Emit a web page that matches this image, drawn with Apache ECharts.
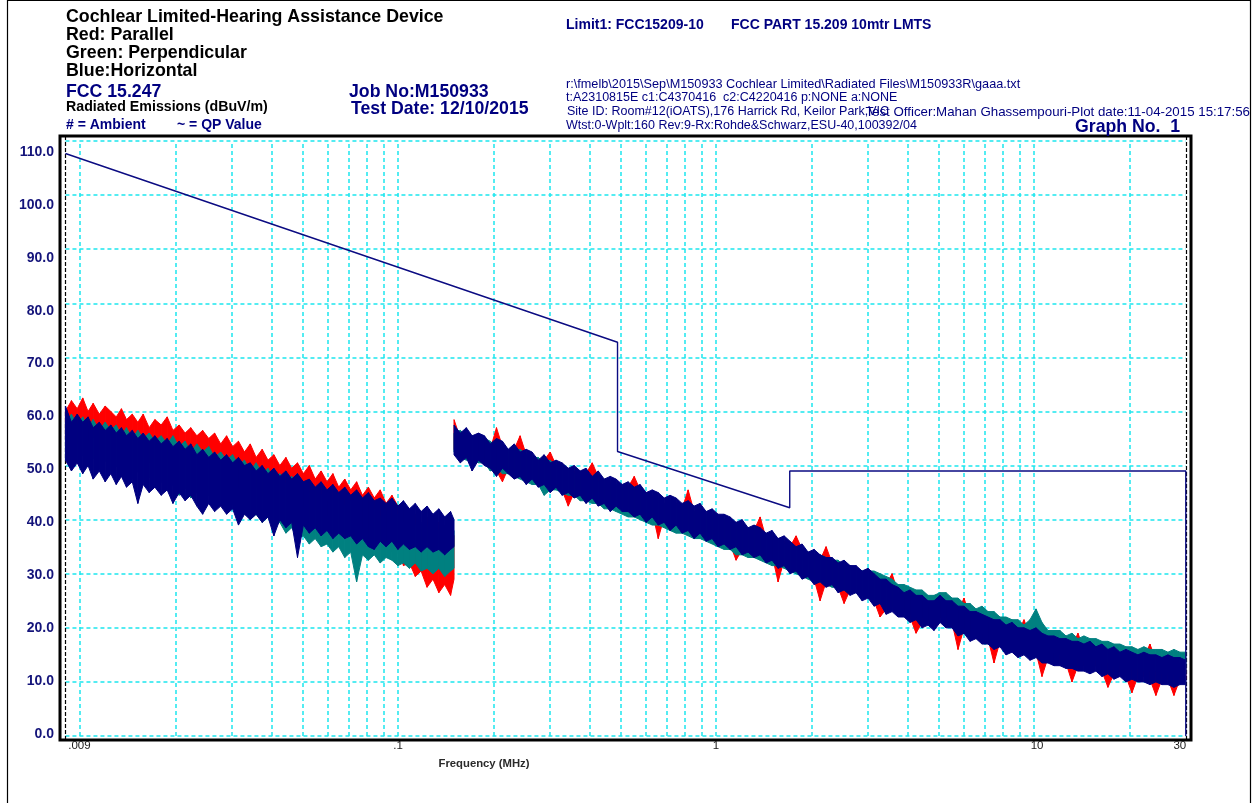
<!DOCTYPE html>
<html>
<head>
<meta charset="utf-8">
<script src="https://cdn.jsdelivr.net/npm/echarts@6/dist/echarts.min.js"></script>
<style>html,body{margin:0;padding:0;background:#fff}#chart{width:1255px;height:803px}</style>
</head>
<body>
<div id="chart"></div>
<script>
// ---------- DATA ----------
// Band 1: 9 kHz - 150 kHz (MHz)
const lowBandFreq = [0.009,0.0094,0.0098,0.0102,0.0106,0.011,0.0115,0.012,0.0125,0.013,
0.0135,0.014,0.0146,0.0152,0.0158,0.0165,0.0172,0.018,0.0188,0.0196,
0.0205,0.0214,0.0223,0.0233,0.0243,0.0254,0.0265,0.0277,0.0289,0.0302,
0.0315,0.0329,0.0343,0.0358,0.0374,0.039,0.0407,0.0425,0.0444,0.0463,
0.0483,0.0504,0.0526,0.0549,0.0573,0.0598,0.0624,0.0651,0.068,0.071,
0.0741,0.0773,0.0807,0.0842,0.0879,0.0917,0.0957,0.0999,0.104,0.1086,
0.1133,0.1182,0.1234,0.1288,0.1344,0.1402,0.1463,0.15];
// Red: Parallel (max / min per sweep bin), dBuV/m
const parallelLowMax = [60,62,60.5,62.5,60,61.5,59.5,61,60,59,60.5,58.5,59.5,58,59.5,57,58.5,57.5,59,56.5,57.5,56,57,55.5,56.5,55,56,54,55.5,53.5,54.5,52.5,54,51.5,53,51,52,50,51.5,49.5,50.5,48.5,50,47.5,49,47,48.5,46,47.5,45.5,47,44.5,46,44,45.5,43,44.5,42.5,43,40,41,39,40.5,38,39.5,37,38.5,37];
const parallelLowMin = [55,57,54,56,54.5,55.5,53,55,53.5,54.5,52.5,54,51.5,53,52,50.5,52,50,51.5,50.5,49,50.5,48.5,50,48.5,49.5,47,48.5,46.5,48,46,47,45,46,44.5,45.5,43.5,44.5,42.5,43.5,41.5,42.5,40.5,42,40,41,39,40.5,38.5,39.5,37.5,38.5,36.5,37.5,36,36.5,34,35,31.5,32,29.5,30.5,27.5,29,26.5,28,26,29];
// Green: Perpendicular
const perpLowMax = [58,59.5,57.5,59,57,58.5,56.5,58,56.5,57.5,55.5,57,55,56.5,55,56,54.5,55.5,54,55.5,53.5,54.5,52.5,54,52.5,53.5,51.5,52.5,51,52,50,51,49,50.5,48.5,49.5,47.5,48.5,46.5,48,46,47,45,46,44.5,45.5,43.5,44.5,42.5,43.5,42,43,41,42,40.5,41.5,40,41,39.5,40,39,39.5,38.5,39,38,39,37.5,38];
const perpLowMin = [51,53,50.5,52,50,51.5,49.5,51,49,50,48.5,49.5,47.5,49,47,48,46,47,45.5,46.5,44.5,46,44,45,43.5,44.5,42.5,43.5,42,43,41,42,40,41,39.5,40.5,38.5,39.5,37.5,38.5,36.5,37,35.5,36.5,35,35.5,34,35,33,34,28.5,33.5,32.5,33.5,32,33,32.5,31.5,32,31,32,30.5,31,30,31,29.5,30.5,31];
// Blue: Horizontal
const horizLowMax = [61,58,59.5,58,59,57,58,56.5,57.5,56,57,55.5,56.5,55,56,54.5,55.5,54,55,53.5,54.5,53,54,52,53,51.5,52.5,51,52,50.5,51.5,50,50.5,49,50,48.5,49.5,48,49,47.5,48.5,47,47.5,46,47,45.5,46.5,45,46,44.5,45.5,44,45,43.5,44,43,44,42.5,43.5,42,43,41.5,42.5,41,42,40.5,41.5,40];
const horizLowMin = [51,49,50.5,48.5,50,47.5,49,47,48.5,46.5,48,46,47,43,46.5,45,46,44.5,45.5,43,45,43.5,44.5,42.5,41,43,41.5,42.5,41,42,39,41,40,41,39.5,40.5,37,40,38.5,39.5,33,39,37.5,38.5,37,38,36.5,37.5,36.5,37,35.5,36.5,35,34.5,36,35,36,34.5,35.5,34.5,35,34,35,34,34.5,33.5,34.5,35];

// Band 2: 150 kHz - 30 MHz (MHz)
const highBandFreq = [0.15,0.157,0.164,0.171,0.179,0.187,0.195,0.204,0.213,0.222,
0.232,0.242,0.253,0.264,0.276,0.288,0.301,0.314,0.328,0.343,
0.358,0.374,0.39,0.408,0.426,0.445,0.465,0.485,0.507,0.529,
0.553,0.577,0.603,0.63,0.658,0.687,0.717,0.749,0.782,0.817,
0.853,0.891,0.931,0.972,1.015,1.06,1.107,1.156,1.208,1.261,
1.317,1.376,1.437,1.5,1.567,1.637,1.709,1.785,1.865,1.947,
2.034,2.124,2.218,2.317,2.42,2.527,2.639,2.756,2.879,3.006,
3.14,3.279,3.425,3.577,3.735,3.901,4.074,4.255,4.444,4.641,
4.847,5.062,5.287,5.521,5.766,6.022,6.289,6.568,6.86,7.164,
7.482,7.814,8.161,8.523,8.901,9.296,9.709,10.14,10.59,11.06,
11.55,12.06,12.6,13.16,13.74,14.35,14.99,15.65,16.35,17.07,
17.83,18.62,19.45,20.31,21.21,22.15,23.14,24.16,25.24,26.36,
27.53,28.75,30];
const parallelHighMax = [58.5,55,56,54.5,55,54.5,53,57,53.5,52,53,55.5,52,51.5,50,51,52.5,50,49.5,48.5,49,48,48.5,50.5,48,46.5,47,46.5,45.5,46,48,45.5,44,44.5,44,43,43.5,43,42,45.5,41.5,42,40.5,41,40,40,39.5,38.5,39,37.5,38,40.5,36.5,37,35.5,36,35,37,34.5,33,33.5,32.5,35,32,31,31.5,30.5,30.5,29.5,30,29,28,28,30,26.5,25.5,26,25,25,24,24,25,24,24,23,25.5,22,22,21.5,21,20.5,20.5,19.5,20,19,21.5,18.5,19,18,17.5,17.5,17,17,16.5,19,16,16.5,15.5,16,15,15.5,14.5,15,14.5,14,14.5,17,14,13.5,14,13.5,13.5,13];
const parallelHighMin = [53,51.5,52.5,50,52,51,50.5,49,47,49.5,48.5,49,47.5,48.5,47,47.5,46,47,45.5,42.5,45,45.5,44,45,43.5,44,42.5,43.5,42.5,42.5,41.5,42,40.5,41.5,36.5,40.5,39,40,38.5,39,37.5,38.5,37,37.5,36,36.5,35.5,32.5,34.5,35,34,34.5,33,33.5,28.5,32.5,31,31.5,30,30.5,29,25,28.5,29,27.5,24.5,27,27.5,26,26.5,25,22,23.5,24,23,23,22,19,21,21.5,20.5,22,21,21,16,20,18.5,19,18,18,13.5,17.5,16,16.5,15.5,16,15,15.5,11,14.5,14,14,13.5,10,13,13,12.5,13,12,9,11.5,12,11,8,11,11,10.5,7.5,10.5,10.5,7.5,10.5,10.5];
const perpHighMax = [56,56.5,55.5,55.5,54.5,55,54.5,53.5,54,53,52.5,53,52,51.5,51.5,50.5,51,50,49.5,49.5,48.5,49,48,48,47,47.5,46.5,46.5,46,45.5,45.5,44.5,45,44,44,43,43.5,42.5,42.5,42,41.5,41.5,41,40.5,40.5,40,39.5,39.5,38.5,38.5,38,37.5,37.5,36.5,36.5,35.5,35.5,35,34.5,34,33.5,33.5,33,32.5,32.5,31.5,31.5,31,30.5,30.5,30.5,30,29.5,29,28,28,27.5,27,27,26,26,26.5,26.5,25.5,25.5,24.5,24.5,23.5,24,23,23,22,22,21.5,21.5,20.5,21.5,23.5,21,19.5,19.5,19.5,18.5,19,18,18.5,18,18,17.5,17.5,17,17,16.5,16.5,16,16.5,16,16,16,15.5,16,15.5,15.5];
const perpHighMin = [52.5,51.5,51,51,50.5,50.5,49,49.5,48.5,48.5,48,47.5,47,46.5,46.5,44.5,45.5,45.5,45,44.5,44.5,43.5,43.5,43,43,42,42,41.5,41,40.5,40.5,40,39.5,39,39,38.5,38,37.5,37.5,37,36.5,36.5,36,35.5,35,34.5,34.5,33.5,33.5,33,33,32.5,32,31.5,31.5,31,30.5,30,29.5,29,28.5,28.5,28,27.5,27.5,27,26.5,26.5,26,25.5,25,24.5,24,23.5,23,23,22.5,22,22,21.5,21.5,22.5,22,21.5,21,20.5,20,19.5,19,19,18.5,18,17.5,17.5,17,17,16.5,17,16.5,15.5,15.5,15,15,14.5,14.5,14,14,14,13.5,13.5,13,13,12.5,12.5,12.5,12,12,12,11.5,11.5,11.5,11,11.5];
const horizHighMax = [57.5,56,57,55.5,56,55.5,54,55,54.5,53,54,52.5,53,52.5,51,52,50.5,51,50.5,49.5,50,49,49.5,48,49,47.5,48,47.5,46.5,47,46,46.5,45,45.5,45,44,44.5,44,43,43.5,42.5,43,41.5,42,41,41,40.5,39.5,40,38.5,39,38.5,37.5,38,36.5,37,36,35,35.5,34,34.5,33.5,33,33,32,32.5,31.5,31.5,30.5,31,30,29,29,28,27.5,26.5,27,26,26,25,25,26,25,25,24,24,23,23,22.5,22,21.5,21.5,20.5,21,20,20,19.5,20,19,18.5,18.5,18,18,17.5,17.5,17,17.5,16.5,17,16,16.5,15.5,16,15.5,15,15.5,15,15,14.5,15,14.5,14.5,14];
const horizHighMin = [52,50.5,51.5,49,51,50,49.5,48,49.5,48.5,47.5,48,46.5,47.5,46,46.5,45,46,44.5,45,44,44.5,43,44,42.5,43,41.5,42.5,41.5,41.5,40.5,41,39.5,40.5,39,39.5,38,39,37.5,38,36.5,37.5,36,36.5,35,35.5,34.5,35,33.5,34,33,33.5,32,32.5,31,31.5,30,30.5,29,29.5,28,28.5,27.5,28,26.5,27,26,26.5,25,25.5,24,24.5,22.5,23,22,22,21,21.5,20,20.5,19.5,21,20,20,18.5,19,17.5,18,17,17,16,16.5,15,15.5,14.5,15,14,14.5,13.5,13.5,13,13,12.5,12.5,12,12,11.5,12,11,11.5,10.5,11,10,10.5,10,10,9.5,10,9.5,9.5,9,9.5,9.5];

// Limit1: FCC15209-10 (FCC PART 15.209, 10 m)
const limitFreq  = [0.009, 0.49, 0.49, 1.705, 1.705, 30, 30];
const limitLevel = [107.7, 72.8, 52.6, 42.2, 49.0, 49.0, 0];

// Axis ticks / grid
const gridFreqs = [0.01,0.02,0.03,0.04,0.05,0.06,0.07,0.08,0.09,0.1,0.2,0.3,0.4,0.5,0.6,0.7,0.8,0.9,1,2,3,4,5,6,7,8,9,10,20];
const scanEdges = [0.009, 30];
const xTickFreqs = [0.009, 0.1, 1, 10, 30];
const xTickLabels = ['.009', '.1', '1', '10', '30'];
const yTickLevels = [0,10,20,30,40,50,60,70,80,90,100,110];

// ---------- CHART ----------
const FONT = "'Liberation Sans', Arial, Helvetica, sans-serif";
const NAVY = '#000080';
const RED = '#ff0000';
const TEAL = '#008080';
const CYAN = '#1de6ee';
const Y_MIN = -0.74, Y_MAX = 110.93;

// each trace: filled max..min sweep envelope drawn as polygons between consecutive bins
function trace(name, freqs, maxs, mins, color, z) {
  const data = [];
  for (let i = 0; i < freqs.length - 1; i++) {
    data.push([freqs[i], maxs[i], mins[i], freqs[i + 1], maxs[i + 1], mins[i + 1]]);
  }
  return {
    name: name, type: 'custom', silent: true, z: z, animation: false,
    encode: { x: [0, 3], y: [1, 2, 4, 5] },
    data: data,
    renderItem: function (params, api) {
      const a = api.coord([api.value(0), api.value(1)]);
      const b = api.coord([api.value(3), api.value(4)]);
      const c = api.coord([api.value(3), api.value(5)]);
      const d = api.coord([api.value(0), api.value(2)]);
      return { type: 'polygon', shape: { points: [a, b, c, d] },
               style: { fill: color, stroke: color, lineWidth: 1 } };
    }
  };
}

const cyanDash = { color: CYAN, width: 1.5, type: [4, 3], opacity: 1 };
const blackDash = { color: '#000', width: 1.2, type: [4, 2], opacity: 1 };
const labelShift = { '.009': [0, 0, 0, 28], '10': [0, 0, 0, 6], '30': [0, 12, 0, 0] };

const markLines = [];
gridFreqs.forEach(f => markLines.push([{ coord: [f, 0], lineStyle: cyanDash }, { coord: [f, 110] }]));
yTickLevels.forEach(v => markLines.push([{ coord: [scanEdges[0], v], lineStyle: cyanDash }, { coord: [scanEdges[1], v] }]));
scanEdges.forEach(f => markLines.push([{ coord: [f, Y_MIN], lineStyle: blackDash }, { coord: [f, Y_MAX] }]));
xTickFreqs.forEach((f, i) => markLines.push([{
  coord: [f, 0], lineStyle: { color: 'rgba(0,0,0,0)', width: 0 },
  label: { show: true, position: 'start', distance: 4, formatter: xTickLabels[i], opacity: 1,
           fontSize: 11.5, color: '#1a1a1a', fontFamily: FONT,
           padding: labelShift[xTickLabels[i]] || 0 }
}, { coord: [f, 110] }]));

function txt(text, x, y, size, color, weight, align) {
  return { type: 'text', x: x, y: y, silent: true, z: 10,
    style: { text: text, fill: color, fontSize: size, fontWeight: weight || 'bold',
             fontFamily: FONT, align: align || 'left', verticalAlign: 'middle' } };
}

const option = {
  animation: false,
  backgroundColor: '#fff',
  grid: { left: 60, right: 64, top: 136, bottom: 63, show: true,
          borderColor: '#000', borderWidth: 3, backgroundColor: 'transparent' },
  xAxis: [{ type: 'log', logBase: 10, min: 0.008652, max: 31.15, show: false }],
  yAxis: [
    { type: 'value', min: Y_MIN, max: Y_MAX, show: false },
    { type: 'value', min: -1.134, max: 113.024, position: 'left',
      axisLine: { show: false }, axisTick: { show: false }, splitLine: { show: false },
      axisLabel: { customValues: yTickLevels, formatter: v => Number(v).toFixed(1),
                   color: '#14147a', fontWeight: 'bold', fontSize: 14, fontFamily: FONT, margin: 6 } }
  ],
  graphic: [
    { type: 'rect', silent: true, z: 0, shape: { x: 7.5, y: 0.5, width: 1243, height: 812 },
      style: { fill: 'none', stroke: '#000', lineWidth: 1.2 } },
    txt('Cochlear Limited-Hearing Assistance Device', 66, 17, 17.8, '#000'),
    txt('Red: Parallel', 66, 35, 17.8, '#000'),
    txt('Green: Perpendicular', 66, 53, 17.8, '#000'),
    txt('Blue:Horizontal', 66, 71, 17.8, '#000'),
    txt('FCC 15.247', 66, 92, 17.7, NAVY),
    txt('Radiated Emissions (dBuV/m)', 66, 107, 14.2, '#000'),
    txt('# = Ambient', 66, 125, 14, NAVY),
    txt('~ = QP Value', 177, 125, 14, NAVY),
    txt('Job No:M150933', 349, 92, 17.7, NAVY),
    txt('Test Date: 12/10/2015', 351, 109, 17.7, NAVY),
    txt('Limit1: FCC15209-10', 566, 25, 14, NAVY),
    txt('FCC PART 15.209 10mtr LMTS', 731, 25, 14, NAVY),
    txt('r:\\fmelb\\2015\\Sep\\M150933 Cochlear Limited\\Radiated Files\\M150933R\\gaaa.txt', 566, 84, 12.7, NAVY, 'normal'),
    txt('t:A2310815E c1:C4370416  c2:C4220416 p:NONE a:NONE', 566, 98, 12.5, NAVY, 'normal'),
    txt('Site ID: Room#12(iOATS),176 Harrick Rd, Keilor Park,VIC', 567, 112, 12.5, NAVY, 'normal'),
    txt('Test Officer:Mahan Ghassempouri-Plot date:11-04-2015 15:17:56', 1250, 112, 13.3, NAVY, 'normal', 'right'),
    txt('Wtst:0-Wplt:160 Rev:9-Rx:Rohde&Schwarz,ESU-40,100392/04', 566, 126, 12.5, NAVY, 'normal'),
    txt('Graph No.  1', 1075, 127, 17.7, NAVY),
    txt('Frequency (MHz)', 484, 764, 11.3, '#2a2a2a', 'bold', 'center')
  ],
  series: [
    trace('Red: Parallel', lowBandFreq, parallelLowMax, parallelLowMin, RED, 2),
    trace('Red: Parallel ', highBandFreq, parallelHighMax, parallelHighMin, RED, 2),
    trace('Green: Perpendicular', lowBandFreq, perpLowMax, perpLowMin, TEAL, 3),
    trace('Green: Perpendicular ', highBandFreq, perpHighMax, perpHighMin, TEAL, 3),
    trace('Blue: Horizontal', lowBandFreq, horizLowMax, horizLowMin, NAVY, 4),
    trace('Blue: Horizontal ', highBandFreq, horizHighMax, horizHighMin, NAVY, 4),
    {
      name: 'Limit1', type: 'line', z: 5, silent: true, animation: false,
      data: limitFreq.map((f, i) => [f, limitLevel[i]]),
      symbol: 'none', lineStyle: { color: '#0b0b82', width: 1.4 },
      markLine: { silent: true, z: 1, animation: false, symbol: ['none', 'none'],
                  label: { show: false }, emphasis: { disabled: true }, data: markLines }
    }
  ]
};

const chart = echarts.init(document.getElementById('chart'), null, { renderer: 'canvas' });
chart.setOption(option);
</script>
</body>
</html>
